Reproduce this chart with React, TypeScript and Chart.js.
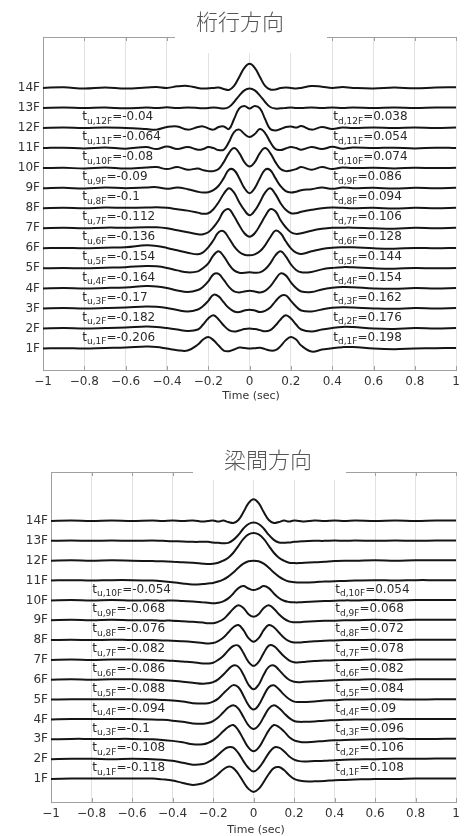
import React, { useEffect, useRef } from 'react';
import { Chart, registerables } from 'chart.js';
Chart.register(...registerables);

// ---------- shared axes ----------
const TIME = [
  -1, -0.9, -0.8, -0.7, -0.6, -0.5, -0.45, -0.4, -0.35, -0.3,
  -0.25, -0.225, -0.2, -0.175, -0.15, -0.125, -0.1, -0.075, -0.05, -0.025,
  0,
  0.025, 0.05, 0.075, 0.1, 0.125, 0.15, 0.175, 0.2, 0.225, 0.25,
  0.3, 0.35, 0.4, 0.45, 0.5, 0.6, 0.7, 0.8, 0.9, 1,
];
const FLOOR_VALUES = [1, 2, 3, 4, 5, 6, 7, 8, 9, 10, 11, 12, 13, 14];
const FLOOR_LABELS = ['1F', '2F', '3F', '4F', '5F', '6F', '7F', '8F', '9F', '10F', '11F', '12F', '13F', '14F'];
const X_TICK_VALUES = [-1, -0.8, -0.6, -0.4, -0.2, 0, 0.2, 0.4, 0.6, 0.8, 1];
const X_TICK_LABELS = ['−1', '−0.8', '−0.6', '−0.4', '−0.2', '0', '0.2', '0.4', '0.6', '0.8', '1'];

// ---------- 桁行方向 (deviation from floor baseline) ----------
const KETA_1F = [
  0, 0.02, 0, 0.03, 0.05, 0.1, 0.08, 0, -0.08, -0.1,
  0.2, 0.45, 0.57, 0.42, 0.15, -0.1, -0.13, -0.05, 0.05, 0.03,
  0,
  0.02, 0.04, -0.03, -0.1, -0.08, 0.12, 0.42, 0.58, 0.45, 0.15,
  -0.15, -0.05, 0.02, 0.07, 0.08, 0, -0.03, 0, 0.02, 0.03,
];
const KETA_2F = [
  0, 0.02, 0, 0.02, 0.05, 0.1, 0.08, 0.02, -0.05, -0.12,
  -0.05, 0.2, 0.5, 0.66, 0.45, 0.15, -0.08, -0.15, -0.1, -0.03,
  0,
  -0.03, -0.08, -0.14, -0.08, 0.15, 0.45, 0.66, 0.5, 0.2, -0.05,
  -0.15, -0.05, 0.03, 0.08, 0.07, 0, -0.02, 0.02, 0, 0.02,
];
const KETA_3F = [
  0, 0.02, 0, 0.02, 0.05, 0.1, 0.08, 0.02, -0.08, -0.15,
  -0.05, 0.12, 0.38, 0.68, 0.6, 0.3, 0.02, -0.15, -0.18, -0.1,
  -0.06,
  -0.1, -0.18, -0.12, 0.05, 0.35, 0.62, 0.65, 0.38, 0.1, -0.1,
  -0.15, -0.05, 0.03, 0.06, 0.05, 0, -0.02, 0.02, 0, 0.02,
];
const KETA_4F = [
  0, 0.02, 0, 0.02, 0.05, 0.12, 0.1, 0.02, -0.1, -0.18,
  -0.08, 0.08, 0.35, 0.7, 0.72, 0.42, 0.08, -0.15, -0.2, -0.15,
  -0.12,
  -0.15, -0.2, -0.12, 0.1, 0.45, 0.75, 0.65, 0.3, 0.02, -0.15,
  -0.18, -0.05, 0.03, 0.07, 0.06, 0, -0.02, 0.02, 0, 0.02,
];
const KETA_5F = [
  0, 0.02, 0, 0.03, 0.06, 0.12, 0.1, 0.02, -0.1, -0.2,
  -0.15, 0.02, 0.25, 0.65, 0.85, 0.6, 0.2, -0.1, -0.22, -0.22,
  -0.2,
  -0.22, -0.2, -0.05, 0.25, 0.65, 0.85, 0.6, 0.2, -0.08, -0.2,
  -0.18, -0.05, 0.02, 0.06, 0.05, 0, -0.02, 0.02, 0, 0.02,
];
const KETA_6F = [
  0, 0.02, 0, 0.03, 0.05, 0.15, 0.12, 0.02, -0.1, -0.22,
  -0.3, -0.2, 0.05, 0.4, 0.8, 0.85, 0.5, 0.1, -0.18, -0.32,
  -0.35,
  -0.3, -0.15, 0.15, 0.55, 0.88, 0.75, 0.35, 0, -0.22, -0.28,
  -0.15, -0.03, 0.03, 0.05, 0.05, 0, -0.02, 0.02, 0, 0.02,
];
const KETA_7F = [
  0, 0.02, 0, 0.03, 0.03, 0.05, 0.05, 0, -0.1, -0.2,
  -0.3, -0.3, -0.2, 0.05, 0.4, 0.85, 0.95, 0.6, 0.15, -0.25,
  -0.42,
  -0.25, 0.15, 0.6, 0.95, 0.85, 0.4, 0.05, -0.2, -0.28, -0.25,
  -0.12, -0.03, 0.02, 0.03, 0.03, 0, -0.02, 0.02, 0, 0.02,
];
const KETA_8F = [
  0, 0.02, 0, 0.03, 0.02, 0.03, 0.05, 0.02, -0.05, -0.12,
  -0.22, -0.28, -0.25, -0.05, 0.3, 0.72, 1.0, 0.78, 0.3, -0.1,
  -0.35,
  -0.12, 0.3, 0.78, 1.0, 0.7, 0.25, -0.08, -0.25, -0.25, -0.18,
  -0.08, 0, 0.03, 0.02, 0, 0.02, -0.02, 0.02, 0, 0.02,
];
const KETA_9F = [
  0, 0.02, -0.02, 0.03, 0, 0.03, 0.05, -0.03, 0.03, -0.05,
  -0.18, -0.22, -0.2, -0.1, 0.12, 0.5, 0.92, 0.9, 0.5, 0,
  -0.25,
  0, 0.5, 0.92, 0.9, 0.5, 0.1, -0.15, -0.22, -0.18, -0.1,
  -0.05, 0.03, -0.03, 0.03, 0, 0.02, -0.02, 0.02, 0, 0.02,
];
const KETA_10F = [
  0, 0.02, -0.02, 0.03, -0.02, 0.03, 0.05, -0.05, 0.05, -0.08,
  -0.02, -0.1, -0.15, -0.15, -0.05, 0.3, 0.75, 1.0, 0.75, 0.3,
  0.08,
  0.3, 0.75, 1.0, 0.75, 0.3, -0.05, -0.15, -0.12, -0.05, 0.05,
  -0.08, 0.05, -0.05, 0.03, 0, 0.02, -0.02, 0.02, 0, 0.02,
];
const KETA_11F = [
  0, 0.02, -0.02, 0.03, -0.03, 0.05, -0.05, 0.08, -0.05, 0.05,
  -0.08, -0.05, 0.05, 0, -0.1, -0.08, 0.3, 0.8, 0.92, 0.7,
  0.55,
  0.7, 0.95, 0.75, 0.3, -0.05, -0.1, -0.02, 0.05, 0, -0.08,
  0.05, -0.05, 0.06, -0.03, 0.03, 0, 0.02, -0.02, 0.02, 0,
];
const KETA_12F = [
  0, 0.02, 0, 0.03, 0, -0.05, -0.08, 0.05, 0.08, -0.08,
  0.05, 0.08, -0.02, -0.08, 0.05, 0.08, -0.05, 0.45, 0.98, 1.1,
  0.97,
  1.1, 0.98, 0.45, -0.05, -0.12, -0.05, 0.05, 0.08, 0.02, 0.1,
  -0.08, 0.05, -0.05, 0.03, 0, 0.02, 0, 0.02, 0, 0.02,
];
const KETA_13F = [
  0, 0.02, 0, 0.02, -0.02, 0.02, 0, 0.03, 0, 0.02,
  0, -0.02, 0, 0.02, 0, -0.03, 0.05, 0.3, 0.62, 0.88,
  0.97,
  0.88, 0.62, 0.3, 0.05, -0.03, -0.02, 0, 0.02, 0, 0,
  0.02, 0, 0.02, 0, 0.02, 0, 0.02, 0, 0.02, 0.02,
];
const KETA_14F = [
  0, 0.03, -0.03, 0.02, -0.03, 0.02, 0.05, 0, 0.08, 0.1,
  0, -0.03, -0.02, 0, 0.02, -0.05, -0.1, 0.1, 0.55, 1.0,
  1.2,
  1.0, 0.55, 0.1, -0.08, -0.08, 0, 0.02, 0, -0.03, 0,
  0.1, 0.06, 0, 0.04, 0, -0.03, 0.02, -0.02, 0.02, 0.03,
];
const KETA_SERIES = [KETA_1F, KETA_2F, KETA_3F, KETA_4F, KETA_5F, KETA_6F, KETA_7F,
  KETA_8F, KETA_9F, KETA_10F, KETA_11F, KETA_12F, KETA_13F, KETA_14F];
const KETA_TU_FLOORS = ['1F', '2F', '3F', '4F', '5F', '6F', '7F', '8F', '9F', '10F', '11F', '12F'];
const KETA_TU = [-0.206, -0.182, -0.17, -0.164, -0.154, -0.136, -0.112, -0.1, -0.09, -0.08, -0.064, -0.04];
const KETA_TD = [0.198, 0.176, 0.162, 0.154, 0.144, 0.128, 0.106, 0.094, 0.086, 0.074, 0.054, 0.038];

// ---------- 梁間方向 ----------
const HARI_1F = [
  0, 0.02, 0.03, 0.02, 0.03, 0.02, -0.02, -0.08, -0.2, -0.3,
  -0.22, -0.1, 0.05, 0.25, 0.48, 0.62, 0.55, 0.25, -0.15, -0.5,
  -0.65,
  -0.5, -0.15, 0.25, 0.55, 0.6, 0.45, 0.2, 0, -0.08, -0.12,
  -0.12, -0.1, -0.06, -0.05, -0.03, 0, 0, 0.02, 0.02, 0.02,
];
const HARI_2F = [
  0, 0.02, 0.02, 0, 0.02, 0, -0.03, -0.08, -0.18, -0.28,
  -0.25, -0.15, 0, 0.22, 0.45, 0.6, 0.58, 0.3, -0.1, -0.45,
  -0.62,
  -0.45, -0.1, 0.3, 0.58, 0.58, 0.4, 0.15, -0.02, -0.1, -0.12,
  -0.1, -0.08, -0.05, -0.03, -0.02, 0, 0.02, 0.02, 0.03, 0.03,
];
const HARI_3F = [
  0, 0.02, 0.02, 0.02, 0.02, 0, -0.03, -0.08, -0.15, -0.25,
  -0.25, -0.18, -0.05, 0.15, 0.4, 0.62, 0.72, 0.45, 0, -0.42,
  -0.6,
  -0.42, 0, 0.45, 0.72, 0.62, 0.4, 0.12, -0.05, -0.12, -0.15,
  -0.12, -0.08, -0.05, -0.03, -0.02, 0, 0.02, 0.02, 0.02, 0.03,
];
const HARI_4F = [
  0, 0.02, 0.02, 0.02, 0.02, 0, -0.02, -0.06, -0.12, -0.2,
  -0.22, -0.18, -0.08, 0.1, 0.35, 0.6, 0.72, 0.55, 0.12, -0.3,
  -0.48,
  -0.3, 0.12, 0.55, 0.72, 0.58, 0.32, 0.08, -0.08, -0.12, -0.12,
  -0.1, -0.06, -0.04, -0.02, 0, 0, 0.02, 0.02, 0.02, 0.02,
];
const HARI_5F = [
  0, 0.02, 0.02, 0.02, 0.02, 0, -0.02, -0.05, -0.1, -0.18,
  -0.2, -0.18, -0.1, 0.05, 0.3, 0.55, 0.73, 0.62, 0.2, -0.28,
  -0.5,
  -0.28, 0.2, 0.62, 0.72, 0.52, 0.25, 0.03, -0.1, -0.12, -0.12,
  -0.1, -0.05, -0.03, 0, 0, 0.02, 0.02, 0, 0.02, 0.02,
];
const HARI_6F = [
  0, 0.02, 0, 0.02, 0.02, 0, -0.02, -0.05, -0.1, -0.15,
  -0.2, -0.18, -0.12, 0.02, 0.25, 0.52, 0.72, 0.65, 0.25, -0.25,
  -0.48,
  -0.25, 0.25, 0.65, 0.72, 0.5, 0.22, 0, -0.1, -0.12, -0.1,
  -0.08, -0.05, -0.03, 0, 0, 0.02, 0, 0.02, 0.02, 0.02,
];
const HARI_7F = [
  0, 0.02, 0, 0.02, 0.02, 0, -0.02, -0.04, -0.08, -0.12,
  -0.18, -0.18, -0.14, 0, 0.2, 0.48, 0.7, 0.72, 0.35, -0.1,
  -0.3,
  -0.1, 0.35, 0.72, 0.7, 0.45, 0.18, -0.02, -0.12, -0.12, -0.1,
  -0.06, -0.03, -0.02, 0, 0, 0.02, 0, 0.02, 0.02, 0.02,
];
const HARI_8F = [
  0, 0.02, 0, 0.02, 0, 0, -0.02, -0.03, -0.06, -0.1,
  -0.15, -0.17, -0.15, -0.05, 0.12, 0.38, 0.65, 0.76, 0.5, 0.1,
  -0.08,
  0.1, 0.5, 0.76, 0.65, 0.38, 0.12, -0.05, -0.12, -0.12, -0.1,
  -0.06, -0.03, -0.02, 0, 0, 0.02, 0, 0.02, 0.02, 0.02,
];
const HARI_9F = [
  0, 0.02, 0, 0.02, 0, 0, -0.02, -0.02, -0.05, -0.08,
  -0.12, -0.15, -0.15, -0.08, 0.05, 0.3, 0.58, 0.76, 0.62, 0.3,
  0.17,
  0.3, 0.62, 0.76, 0.58, 0.3, 0.08, -0.06, -0.1, -0.1, -0.08,
  -0.05, -0.03, -0.02, 0, 0, 0.02, 0, 0.02, 0.02, 0.02,
];
const HARI_10F = [
  0, 0.02, 0, 0.02, 0, 0, -0.02, 0, -0.03, -0.05,
  -0.1, -0.12, -0.15, -0.12, -0.05, 0.1, 0.35, 0.62, 0.72, 0.6,
  0.52,
  0.6, 0.72, 0.62, 0.35, 0.12, -0.02, -0.08, -0.1, -0.1, -0.08,
  -0.05, -0.03, -0.02, 0, 0, 0.02, 0, 0.02, 0.02, 0.02,
];
const HARI_11F = [
  0, 0.02, 0, 0.02, 0.02, 0, -0.03, -0.08, -0.15, -0.2,
  -0.18, -0.15, -0.12, -0.05, 0.05, 0.2, 0.4, 0.65, 0.85, 0.97,
  1.0,
  0.97, 0.85, 0.65, 0.4, 0.2, 0.05, -0.05, -0.08, -0.1, -0.1,
  -0.08, -0.05, -0.03, -0.02, 0, 0.02, 0, 0.02, 0.02, 0.02,
];
const HARI_12F = [
  0, 0.02, 0, 0.02, 0, -0.02, -0.03, -0.05, -0.08, -0.1,
  -0.15, -0.17, -0.15, -0.1, 0, 0.15, 0.4, 0.75, 1.1, 1.33,
  1.4,
  1.33, 1.1, 0.75, 0.4, 0.15, 0, -0.1, -0.12, -0.12, -0.1,
  -0.08, -0.05, -0.02, 0, 0, 0.02, 0, 0.02, 0.02, 0.02,
];
const HARI_13F = [
  0, 0.02, 0, 0.02, 0, 0.02, 0, -0.02, -0.03, -0.05,
  -0.05, -0.05, -0.08, -0.1, -0.12, -0.1, 0.05, 0.3, 0.62, 0.85,
  0.92,
  0.85, 0.62, 0.3, 0.05, -0.08, -0.1, -0.08, -0.05, -0.03, -0.02,
  0, 0, 0.02, 0, 0.02, 0, 0.02, 0, 0.02, 0.02,
];
const HARI_14F = [
  0, 0.02, 0, 0.02, 0, 0.02, 0, 0.02, 0, 0.03,
  -0.03, 0, 0.03, -0.03, 0.02, -0.05, -0.1, 0.05, 0.45, 0.9,
  1.1,
  0.9, 0.45, 0.05, -0.1, -0.05, 0.02, -0.03, 0.03, 0, -0.03,
  0.02, 0, 0.02, 0, 0.02, 0, 0.02, 0, 0.02, 0.02,
];
const HARI_SERIES = [HARI_1F, HARI_2F, HARI_3F, HARI_4F, HARI_5F, HARI_6F, HARI_7F,
  HARI_8F, HARI_9F, HARI_10F, HARI_11F, HARI_12F, HARI_13F, HARI_14F];
const HARI_TU_FLOORS = ['1F', '2F', '3F', '4F', '5F', '6F', '7F', '8F', '9F', '10F'];
const HARI_TU = [-0.118, -0.108, -0.1, -0.094, -0.088, -0.086, -0.082, -0.076, -0.068, -0.054];
const HARI_TD = [0.108, 0.106, 0.096, 0.09, 0.084, 0.082, 0.078, 0.072, 0.068, 0.054];

// ---------- chart configs ----------
const FONT = '"DejaVu Sans", "Liberation Sans", sans-serif';
const CJK = '"Noto Sans CJK JP", "Noto Sans CJK SC", sans-serif';

type PanelCfg = {
  title: string;
  series: number[][];
  tuFloors: string[];
  tu: number[];
  td: number[];
  top: number;
  height: number;
  padTop: number;
  padRight: number;
  yAxisWidth: number;
  xAxisHeight: number;
  yMin: number;
  yMax: number;
  titleX: number;
  titleY: number;
  boxLeft: number;
  boxRight: number;
  boxBottom: number;
  annLeftX: number;
  annRightX: number;
  axisTitleX: number;
  axisTitleY: number;
};

const PANELS: PanelCfg[] = [
  {
    title: '桁行方向', series: KETA_SERIES, tuFloors: KETA_TU_FLOORS, tu: KETA_TU, td: KETA_TD,
    top: 0, height: 405, padTop: 37, padRight: 7, yAxisWidth: 43, xAxisHeight: 35,
    yMin: -0.07, yMax: 16.54,
    titleX: 240, titleY: 22, boxLeft: 175, boxRight: 327, boxBottom: 53,
    annLeftX: -0.81, annRightX: 0.405, axisTitleX: 251, axisTitleY: 396,
  },
  {
    title: '梁間方向', series: HARI_SERIES, tuFloors: HARI_TU_FLOORS, tu: HARI_TU, td: HARI_TD,
    top: 420, height: 416, padTop: 52, padRight: 2, yAxisWidth: 51, xAxisHeight: 34,
    yMin: -0.16, yMax: 16.47,
    titleX: 268, titleY: 40, boxLeft: 193, boxRight: 346, boxBottom: 60,
    annLeftX: -0.796, annRightX: 0.403, axisTitleX: 256, axisTitleY: 410,
  },
];

function drawTLabel(ctx: CanvasRenderingContext2D, px: number, py: number, sub: string, val: string) {
  ctx.textAlign = 'left';
  ctx.textBaseline = 'middle';
  ctx.font = `12px ${FONT}`;
  ctx.fillText('t', px, py);
  const w1 = ctx.measureText('t').width;
  ctx.font = `9px ${FONT}`;
  ctx.fillText(sub, px + w1, py + 4.5);
  const w2 = ctx.measureText(sub).width;
  ctx.font = `12px ${FONT}`;
  ctx.fillText('=' + val, px + w1 + w2, py);
}

function buildConfig(p: PanelCfg): any {
  const datasets = p.series.map((vals, i) => ({
    label: FLOOR_LABELS[i],
    data: TIME.map((t, k) => ({ x: t, y: FLOOR_VALUES[i] + vals[k] })),
    borderColor: '#151515',
    borderWidth: 2,
    pointRadius: 0,
    tension: 0.4,
    fill: false,
  }));

  const overlay = {
    id: 'overlay',
    beforeDatasetsDraw(chart: any) {
      const { ctx, chartArea: a, scales } = chart;
      const x = scales.x;
      ctx.save();
      ctx.strokeStyle = '#a0a0a0';
      ctx.lineWidth = 1;
      ctx.beginPath();
      ctx.moveTo(a.left, Math.round(a.top) + 0.5);
      ctx.lineTo(a.right, Math.round(a.top) + 0.5);
      for (const v of X_TICK_VALUES) {
        const px = Math.round(x.getPixelForValue(v)) + 0.5;
        ctx.moveTo(px, a.bottom);
        ctx.lineTo(px, a.bottom - 4);
        ctx.moveTo(px, a.top);
        ctx.lineTo(px, a.top + 4);
      }
      ctx.stroke();
      ctx.restore();
    },
    afterDraw(chart: any) {
      const { ctx, scales } = chart;
      const x = scales.x;
      const y = scales.y;
      ctx.save();
      // title box
      ctx.fillStyle = '#ffffff';
      ctx.fillRect(p.boxLeft, 0, p.boxRight - p.boxLeft, p.boxBottom);
      ctx.fillStyle = '#555555';
      ctx.font = `300 22px ${CJK}`;
      ctx.textAlign = 'center';
      ctx.textBaseline = 'middle';
      ctx.fillText(p.title, p.titleX, p.titleY);
      // axis title
      ctx.fillStyle = '#333';
      ctx.font = `11px ${FONT}`;
      ctx.fillText('Time (sec)', p.axisTitleX, p.axisTitleY);
      // annotations
      ctx.fillStyle = '#2a2a2a';
      p.tuFloors.forEach((fl, i) => {
        const yv = FLOOR_VALUES[i] + 0.55;
        const py = y.getPixelForValue(yv);
        drawTLabel(ctx, x.getPixelForValue(p.annLeftX), py, 'u,' + fl, String(p.tu[i]));
        drawTLabel(ctx, x.getPixelForValue(p.annRightX), py, 'd,' + fl, String(p.td[i]));
      });
      ctx.restore();
    },
  };

  return {
    type: 'line',
    data: { datasets },
    plugins: [overlay],
    options: {
      responsive: false,
      maintainAspectRatio: false,
      animation: false,
      devicePixelRatio: 1,
      layout: { padding: { top: p.padTop, right: p.padRight, left: 0, bottom: 0 } },
      plugins: { legend: { display: false }, tooltip: { enabled: false }, title: { display: false } },
      scales: {
        x: {
          type: 'linear',
          min: -1,
          max: 1,
          afterBuildTicks: (s: any) => { s.ticks = X_TICK_VALUES.map((v) => ({ value: v })); },
          afterFit: (s: any) => { s.height = p.xAxisHeight; },
          ticks: {
            autoSkip: false,
            maxRotation: 0,
            padding: 5,
            color: '#333',
            font: { family: FONT, size: 12 },
            callback: (v: number) => {
              const i = X_TICK_VALUES.findIndex((t) => Math.abs(t - v) < 1e-9);
              return i >= 0 ? X_TICK_LABELS[i] : '';
            },
          },
          grid: { color: '#e2e2e2', lineWidth: 1, drawTicks: false },
          border: { display: true, color: '#a0a0a0', width: 1 },
        },
        y: {
          type: 'linear',
          min: p.yMin,
          max: p.yMax,
          afterBuildTicks: (s: any) => { s.ticks = FLOOR_VALUES.map((v) => ({ value: v })); },
          afterFit: (s: any) => { s.width = p.yAxisWidth; },
          ticks: {
            autoSkip: false,
            padding: 3,
            color: '#333',
            font: { family: FONT, size: 12 },
            callback: (v: number) => {
              const i = FLOOR_VALUES.indexOf(Math.round(v));
              return i >= 0 ? FLOOR_LABELS[i] : '';
            },
          },
          grid: { display: false, drawTicks: false },
          border: { display: true, color: '#a0a0a0', width: 1 },
        },
      },
    },
  };
}

function Panel({ cfg }: { cfg: PanelCfg }) {
  const ref = useRef<HTMLCanvasElement>(null);
  useEffect(() => {
    if (!ref.current) return;
    const chart = new Chart(ref.current, buildConfig(cfg));
    return () => chart.destroy();
  }, [cfg]);
  return (
    <div style={{ position: 'absolute', left: 0, top: cfg.top, width: 465, height: cfg.height }}>
      <canvas ref={ref} width={465} height={cfg.height} style={{ width: 465, height: cfg.height, display: 'block' }} />
    </div>
  );
}

export default function App() {
  return (
    <div style={{ position: 'absolute', left: 0, top: 0, width: 465, height: 836, background: '#fff', overflow: 'hidden' }}>
      {PANELS.map((p) => (
        <Panel key={p.title} cfg={p} />
      ))}
    </div>
  );
}
